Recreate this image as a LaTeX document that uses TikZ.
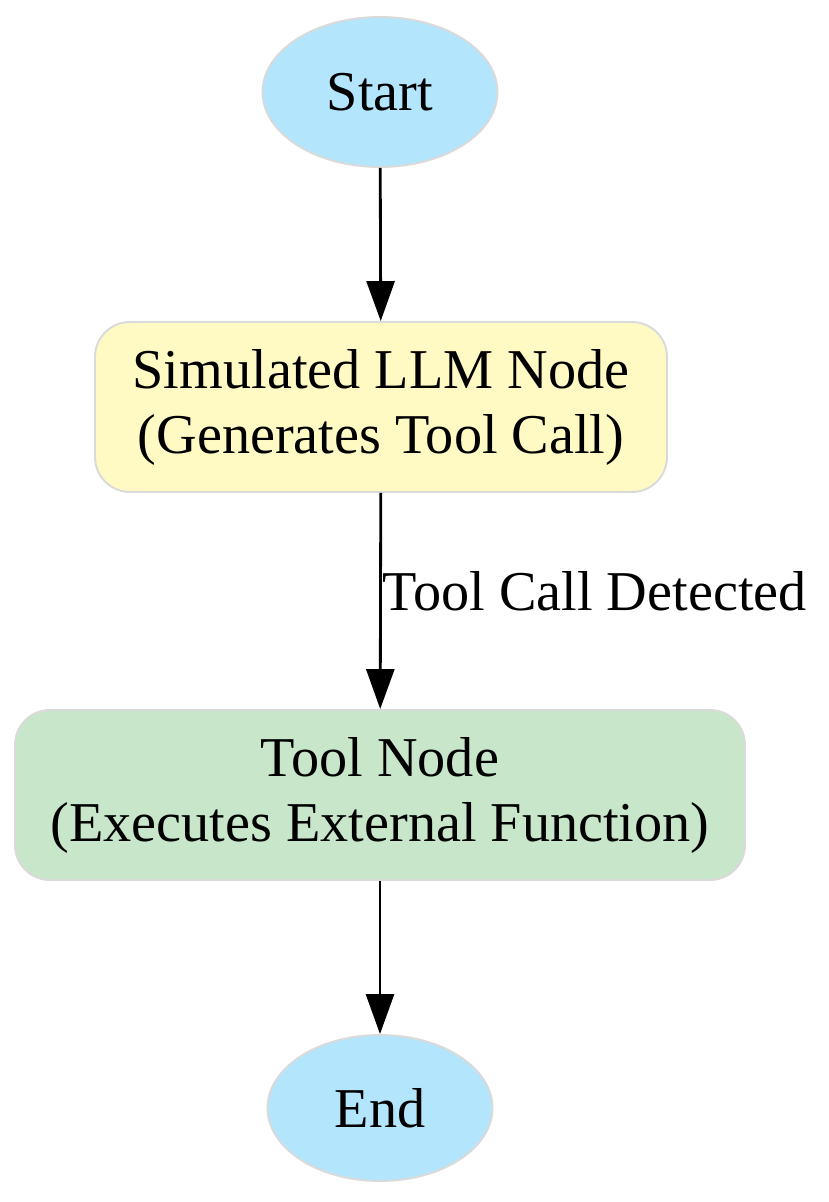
\documentclass[tikz,border=0pt]{standalone}
\usepackage{fontspec}
\setmainfont{Liberation Serif}
\usetikzlibrary{shapes.geometric, arrows.meta}

\definecolor{startblue}{HTML}{B3E5FC}
\definecolor{llmyellow}{HTML}{FFF9C4}
\definecolor{toolgreen}{HTML}{C8E6C9}
\definecolor{edgegrey}{HTML}{DADADA}

\tikzset{
    term/.style={draw=edgegrey, line width=1.1pt, ellipse, fill=startblue, inner sep=0pt},
    stage/.style={draw=edgegrey, line width=1.1pt, rounded corners=0.7cm, align=center, inner sep=0pt},
    flow/.style={line width=1.6pt, -{Triangle[length=0.8cm, width=0.56cm]}}
}

\begin{document}
\begin{tikzpicture}[font=\fontsize{32}{37}\selectfont]
    \useasboundingbox (0,0) rectangle (16.58,-24.04);

    \node[term, minimum width=4.7cm, minimum height=3.0cm] (start) at (7.6,-1.84) {Start};
    \node[stage, fill=llmyellow, minimum width=11.44cm, minimum height=3.4cm] (llm) at (7.62,-8.14)
        {Simulated LLM Node\\(Generates Tool Call)};
    \node[stage, fill=toolgreen, minimum width=14.6cm, minimum height=3.4cm] (tool) at (7.6,-15.9)
        {Tool Node\\(Executes External Function)};
    \node[term, minimum width=4.5cm, minimum height=2.92cm] (end) at (7.6,-22.16) {End};

    \draw[flow] (start) -- (llm);
    \draw[flow] (llm) -- node[right, xshift=-0.1cm, yshift=0.2cm] (detected) {Tool Call Detected} (tool);
    \draw[flow] (tool) -- (end);
\end{tikzpicture}
\end{document}
